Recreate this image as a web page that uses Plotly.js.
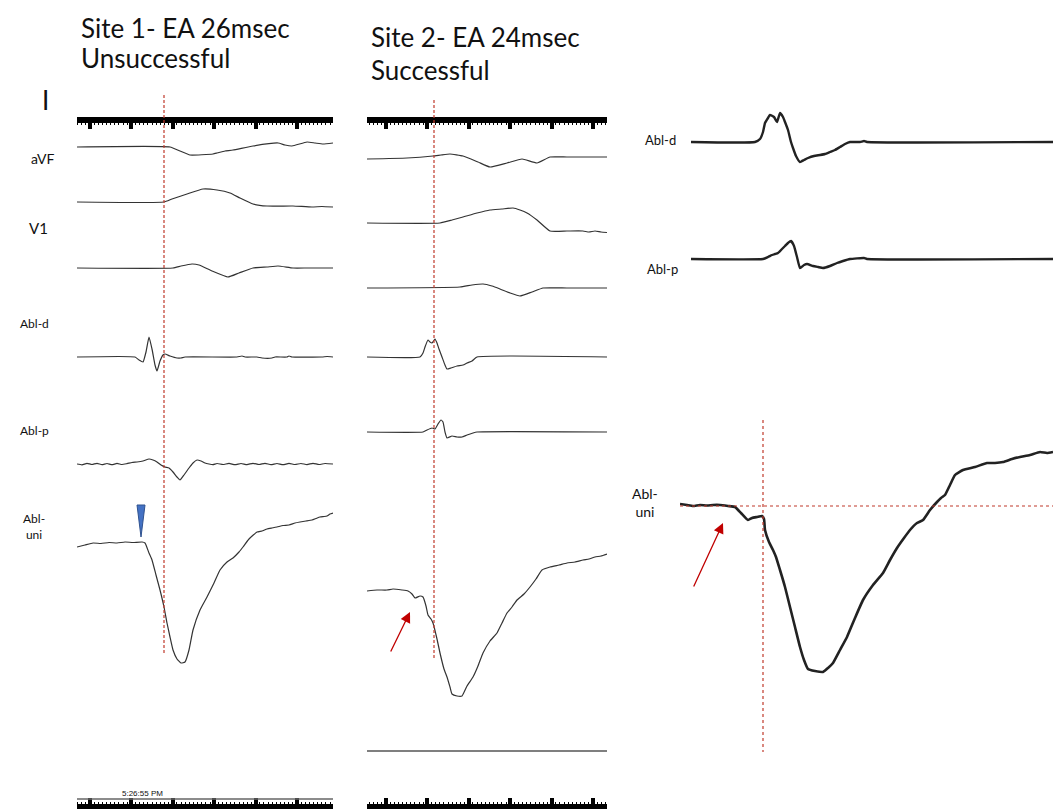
<!DOCTYPE html>
<html>
<head>
<meta charset="utf-8">
<script src="https://cdn.plot.ly/plotly-3.0.1.min.js"></script>
<style>html,body{margin:0;padding:0;background:#fff;}#chart{width:1053px;height:809px;}</style>
</head>
<body>
<div id="chart"></div>
<script>
// ---------------- DATA (time in panel units, amplitude positive = up) ----------------
// Site 1 (unsuccessful)
const s1_I_t   = [0,93,103,113,136,140,142,144,146,148,156,176,201,208,215,230,238,246,256];
const s1_I_v   = [0,0,-4,-8,-7,-6,-5.5,-5,-4.5,-4,-3,1,4,2,1,5,4,3,4];
const s1_aVF_t = [0,87,95,110,126,140,153,163,176,190,216,235,245,256];
const s1_aVF_v = [0,0,3,8,13,12,9,4,-2,-4,-4,-5,-4.5,-5];
const s1_V1_t  = [0,96,104,115,122,135,151,162,176,190,201,216,230,256];
const s1_V1_v  = [0,0,2,4,3,-3,-9,-5,0,1,2,0,0,0];
const s1_Abld_t = [0,58,62,66,69,72,75,78,80,83,86,88,93,100,104,108,160,165,168,180,185,195,198,210,212,215,245,250,256];
const s1_Abld_v = [0,0,-3,-5,5,20,8,-8,-14,-4,2,3,1,-1,-1,0,0,1,0,0,-1,-1,0,0,1,0,0,0.5,0];
const s1_Ablp_t = [0,5,10,15,20,25,30,35,40,45,50,55,60,66,72,76,80,84,88,92,96,100,103,107,112,116,120,124,128,132,136,140,146,152,158,164,170,176,182,188,194,200,206,212,218,224,230,236,242,248,256];
const s1_Ablp_v = [0,-0.8,0.6,-0.5,0.7,-0.6,0.5,-0.7,0.6,-0.5,0.4,1.5,2,3,5,4,2,-1,-3,-4,-8,-13,-16,-11,-4,1,4,3,1,0,-0.6,0.5,-0.5,0.6,-0.7,0.5,-0.6,0.7,-0.5,0.6,-0.6,0.5,-0.7,0.6,-0.5,0.5,-0.6,0.7,-0.5,0.5,0];
const s1_Abluni_t = [0,8,16,24,32,40,48,56,65,68,72,75,79,83,87,90,93,96,100,104,108,112,116,123,130,137,143,150,156,162,166,172,180,185,190,195,200,206,212,218,223,229,235,239,243,247,250,253,256];
const s1_Abluni_v = [-2,0,2,1.5,2.5,2,3,2.5,3,2,-8,-15,-30,-45,-62,-78,-92,-105,-114,-118,-117,-105,-85,-65,-52,-38,-25,-17,-13,-7,-2,6,13,14,16,17,18,19.5,20,22,23,24,25,26.5,28,28.5,29,31,32];

// Site 2 (successful)
const s2_I_t   = [0,40,66,74,83,96,111,123,140,155,170,183,200,240];
const s2_I_v   = [0,1,3,4,5,3,-3,-8,-4,0,-4,2,2,2];
const s2_aVF_t = [0,73,85,96,110,123,135,146,153,160,170,183,200,216,222,228,234,240];
const s2_aVF_v = [0,0,3,6,10,13,14,15,13,10,3,-8,-8,-8,-9,-8,-9,-9.5];
const s2_V1_t  = [0,93,105,116,125,133,143,153,165,176,200,240];
const s2_V1_v  = [0,1,3,4,2,-1,-5,-8,-4,0,0,0];
const s2_Abld_t = [0,53,56,58,61,63,65,68,70,72,75,78,80,84,90,96,100,105,110,240];
const s2_Abld_v = [0,0,4,10,17,15,14,18,14,8,0,-8,-12,-11,-9,-8,-6,-4,0,0];
const s2_Ablp_t = [0,56,60,65,68,71,74,76,78,80,85,90,95,100,106,110,240];
const s2_Ablp_v = [0,0,2,4,3,8,12,10,0,-6,-4,-5,-5,-3,-1,0,0];
const s2_Abluni_t = [0,10,20,26,35,41,45,48,53,56,59,61,64,66,70,73,77,80,83,85,90,95,100,106,111,116,123,130,135,140,145,150,157,163,169,175,183,192,200,208,216,222,228,234,240];
const s2_Abluni_v = [0,1,1,2,1,0,-3,-7,-5,-6,-15,-24,-28,-32,-48,-62,-78,-86,-96,-103,-105,-105,-95,-86,-75,-62,-50,-42,-32,-22,-16,-9,-3,4,12,21,24,26,28,29,31,32,34,35,37];

// Magnified site 2
const m_Abld_t = [11,75,80,83,85,88,90,94,97,100,103,105,108,111,113,116,120,124,128,134,140,145,150,155,160,165,170,180,184,187,373];
const m_Abld_v = [0,0,3,10,19,24,27,25,20,29,25,20,12,0,-6,-14,-20,-18,-16,-14,-13,-12,-10,-8,-5,-2,0,0,1,0,0];
const m_Ablp_t = [11,83,88,92,95,98,102,105,108,111,114,117,120,124,127,133,138,143,150,157,163,170,184,187,373];
const m_Ablp_v = [0,0,2,4,5,6,10,13,16,18,13,2,-9,-6,-5,-7,-8,-9,-7,-4,-2,0,1,0,0];
const m_Abluni_t = [0,7,13,20,27,33,40,48,55,61,68,72,77,82,84,85,89,93,96,100,105,110,115,120,124,128,135,143,148,153,160,167,175,183,193,203,210,217,224,230,237,243,250,257,261,265,270,275,283,295,307,315,323,332,340,350,360,367,373];
const m_Abluni_v = [1,0,-1,0,-0.5,0,0,-1,-2,-8,-15,-13,-12,-11,-14,-25,-37,-45,-52,-65,-82,-102,-122,-142,-155,-164,-166,-167,-163,-158,-145,-132,-113,-95,-80,-68,-55,-43,-33,-25,-18,-15,-5,3,7,10,20,30,35,38,42,42,43,46,48,50,53,52,53];

// Labels
const titleLines = [["Site 1- EA 26msec", "Unsuccessful"], ["Site 2- EA 24msec", "Successful"]];
const leadLabels = ["I","aVF","V1","Abl-d","Abl-p","Abl-<br>uni"];
const timeStamp = "5:26:55 PM";

// ---------------- LAYOUT HELPERS ----------------
const W = 1053, H = 809;
const px = x => x / W;
const py = y => 1 - y / H;
const dark = '#333';
const red = '#c0392b';

function tr(t, v, base, xa, width, color) {
  return {
    x: t, y: v.map(a => base - a), xaxis: xa, yaxis: 'y',
    type: 'scatter', mode: 'lines', hoverinfo: 'skip', showlegend: false,
    line: {color: color || dark, width: width || 1.2, shape: 'spline', smoothing: 0.4}
  };
}

const traces = [
  tr(s1_I_t, s1_I_v, 147, 'x'),
  tr(s1_aVF_t, s1_aVF_v, 202, 'x'),
  tr(s1_V1_t, s1_V1_v, 268, 'x'),
  tr(s1_Abld_t, s1_Abld_v, 357, 'x4'),
  tr(s1_Ablp_t, s1_Ablp_v, 464, 'x4'),
  tr(s1_Abluni_t, s1_Abluni_v, 545, 'x4'),
  tr(s2_I_t, s2_I_v, 159, 'x2'),
  tr(s2_aVF_t, s2_aVF_v, 223, 'x2'),
  tr(s2_V1_t, s2_V1_v, 288, 'x2'),
  tr(s2_Abld_t, s2_Abld_v, 357, 'x5'),
  tr(s2_Ablp_t, s2_Ablp_v, 432, 'x5'),
  tr(s2_Abluni_t, s2_Abluni_v, 591, 'x5'),
  tr(m_Abld_t, m_Abld_v, 142, 'x3', 2.4, '#222'),
  tr(m_Ablp_t, m_Ablp_v, 259, 'x3', 2.4, '#222'),
  tr(m_Abluni_t, m_Abluni_v, 505, 'x3', 2.6, '#222')
];

function timeAxis(dom, range, pos, side, tick0, lw) {
  return {
    domain: dom, range: range, anchor: 'free', position: pos, side: side,
    showline: true, linewidth: lw, linecolor: '#000', mirror: false,
    ticks: 'outside', tick0: tick0, dtick: 41.4, ticklen: 6, tickwidth: 4, tickcolor: '#000',
    minor: {ticks: 'outside', tick0: tick0, dtick: 4.14, ticklen: 2, tickwidth: 1, tickcolor: '#000', showgrid: false},
    showticklabels: false, showgrid: false, zeroline: false, fixedrange: true
  };
}

function label(text, x, y, size, fam) {
  return {text: text, x: px(x), y: py(y), xref: 'paper', yref: 'paper', xanchor: 'center', yanchor: 'middle',
          showarrow: false, font: {size: size, color: '#111', family: fam || undefined}};
}
function titleLine(text, x, y) {
  return {text: text, x: px(x), y: py(y), xref: 'paper', yref: 'paper', xanchor: 'left', yanchor: 'middle',
          showarrow: false, font: {size: 26, color: '#111'}};
}

const dom1 = [px(77), px(333)], dom2 = [px(367), px(607)];
const layout = {
  width: W, height: H, margin: {l: 0, r: 0, t: 0, b: 0},
  paper_bgcolor: '#fff', plot_bgcolor: 'rgba(0,0,0,0)', showlegend: false,
  font: {family: 'Lato, "Open Sans", sans-serif', color: '#111'},
  xaxis: timeAxis(dom1, [0, 256], py(120), 'bottom', 13, 6),
  xaxis4: timeAxis(dom1, [0, 256], py(806), 'top', 13, 5),
  xaxis2: timeAxis(dom2, [0, 240], py(120), 'bottom', 19, 6),
  xaxis5: timeAxis(dom2, [0, 240], py(806), 'top', 19, 5),
  xaxis3: {domain: [px(680), 1], range: [0, 373], visible: false, fixedrange: true},
  yaxis: {domain: [0, 1], range: [H, 0], visible: false, fixedrange: true},
  shapes: [
    {type: 'line', xref: 'x', yref: 'y', x0: 87, x1: 87, y0: 95, y1: 655, line: {color: red, width: 1.2, dash: '3px,2px'}},
    {type: 'line', xref: 'x2', yref: 'y', x0: 67, x1: 67, y0: 100, y1: 660, line: {color: red, width: 1.2, dash: '3px,2px'}},
    {type: 'line', xref: 'x3', yref: 'y', x0: 83, x1: 83, y0: 420, y1: 752, line: {color: red, width: 1.2, dash: '3px,3px'}},
    {type: 'line', xref: 'x3', yref: 'y', x0: 0, x1: 373, y0: 506, y1: 506, line: {color: red, width: 1.2, dash: '3px,3px'}},
    {type: 'line', xref: 'x2', yref: 'y', x0: 0, x1: 240, y0: 751, y1: 751, line: {color: '#555', width: 1.5}},
    {type: 'line', xref: 'x', yref: 'y', x0: 0, x1: 256, y0: 799, y1: 799, line: {color: '#666', width: 1.5}},
    {type: 'path', xref: 'x', yref: 'y', path: 'M 60 505 L 68 505 L 64 537 Z', fillcolor: '#4472C4', line: {color: '#2F528F', width: 1}}
  ],
  annotations: [
    titleLine(titleLines[0][0], 79, 28),
    titleLine(titleLines[0][1], 79, 58),
    titleLine(titleLines[1][0], 369, 37),
    titleLine(titleLines[1][1], 369, 70),
    label(leadLabels[0], 45, 100, 26),
    label(leadLabels[1], 43, 158, 14),
    label(leadLabels[2], 38, 228, 15),
    label(leadLabels[3], 34, 323, 12),
    label(leadLabels[4], 34, 430, 12),
    label(leadLabels[5], 34, 526, 12),
    label(leadLabels[3], 660, 140, 13),
    label(leadLabels[4], 662, 269, 13),
    label(leadLabels[5], 645, 503, 14),
    label(timeStamp, 142, 793, 8, 'Liberation Sans, Arial, sans-serif'),
    {text: '', x: 43, y: 612, xref: 'x2', yref: 'y', ax: 23, ay: 653, axref: 'x2', ayref: 'y', showarrow: true, arrowhead: 2, arrowsize: 1.6, arrowwidth: 1.3, arrowcolor: '#c00000'},
    {text: '', x: 43, y: 523, xref: 'x3', yref: 'y', ax: 13, ay: 588, axref: 'x3', ayref: 'y', showarrow: true, arrowhead: 2, arrowsize: 1.6, arrowwidth: 1.3, arrowcolor: '#c00000'}
  ]
};

Plotly.newPlot('chart', traces, layout, {staticPlot: true, displayModeBar: false});
</script>
</body>
</html>
